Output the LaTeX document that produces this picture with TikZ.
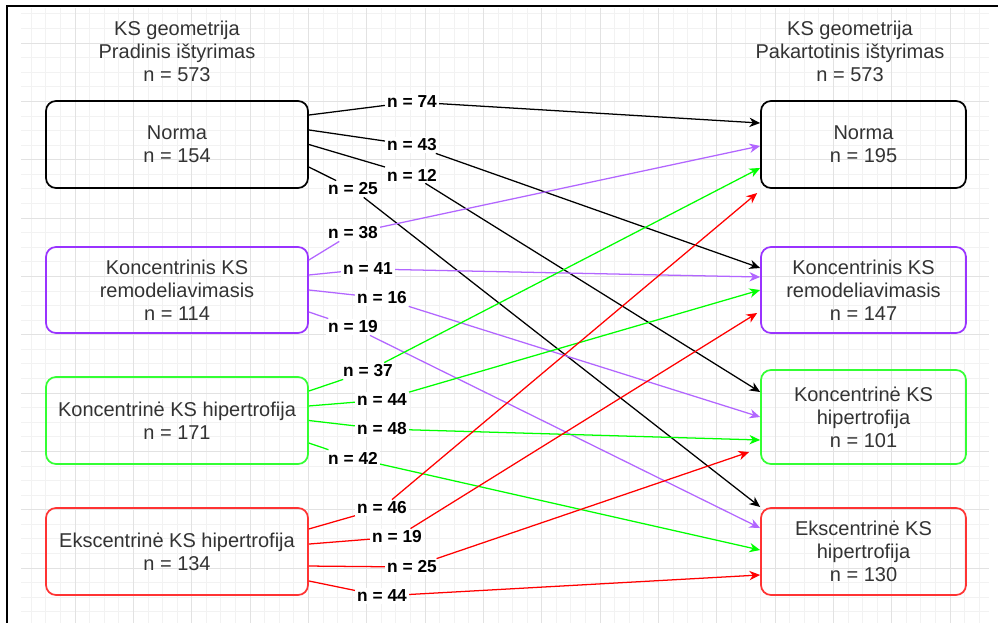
\documentclass[tikz,border=0pt]{standalone}
\usepackage{fontspec}
\setmainfont{Liberation Sans}
\usepackage{xcolor}
\usetikzlibrary{arrows.meta}
\definecolor{pbox}{HTML}{9933FF}
\definecolor{gbox}{HTML}{33FF33}
\definecolor{rbox}{HTML}{FF3333}
\definecolor{pline}{HTML}{B266FF}
\definecolor{gline}{HTML}{00FF00}
\definecolor{rline}{HTML}{FF0000}
\definecolor{gridmajor}{HTML}{E2E2E2}
\definecolor{gridminor}{HTML}{F2F2F2}
\tikzset{>={Stealth[length=8pt,width=7pt,inset=2.5pt]}}

\begin{document}
\begin{tikzpicture}[x=0.75pt, y=-0.75pt,
    box/.style={draw, rounded corners=7.5pt, line width=1.3pt, align=center,
      minimum width=262*0.75pt, minimum height=87*0.75pt,
      font=\fontsize{15}{17.25}\selectfont, text=black!80,
      execute at begin node={\rule{0pt}{15.4pt}}},
    boxR/.style={box, minimum width=205*0.75pt},
    title/.style={align=center, font=\fontsize{15}{17.25}\selectfont, text=black!80},
    cnt/.style={fill=white, inner sep=1.5pt, font=\bfseries\fontsize{13}{15}\selectfont},
    flow/.style={->, line width=0.95pt}]
  \useasboundingbox (0,0) rectangle (998,623);

  % grid
  \begin{scope}
    \clip (21,8) rectangle (989,623);
    \foreach \k in {-3,...,62}
      \draw[gridminor, line width=0.6pt] ({75+14.583*\k},8) -- ({75+14.583*\k},623);
    \foreach \k in {-2,...,40}
      \draw[gridminor, line width=0.6pt] (21,{43+14.583*\k}) -- (989,{43+14.583*\k});
    \foreach \k in {-1,...,16}
      \draw[gridmajor, line width=0.6pt] ({75+58.333*\k},8) -- ({75+58.333*\k},623);
    \foreach \k in {0,...,10}
      \draw[gridmajor, line width=0.6pt] (21,{43+58.333*\k}) -- (989,{43+58.333*\k});
  \end{scope}
  \draw[line width=1.6pt] (7,623) -- (7,6) -- (998,6);

  % titles
  \node[title] (titleA) at (177,51) {KS geometrija\\Pradinis ištyrimas\\n = 573};
  \node[title] (titleB) at (850,51) {KS geometrija\\Pakartotinis ištyrimas\\n = 573};

  % left column
  \node[box] (normaA) at (177,144.5) {Norma\\n = 154};
  \node[box, draw=pbox, minimum height=86*0.75pt] (konRemA) at (177,290) {Koncentrinis KS\\remodeliavimasis\\n = 114};
  \node[box, draw=gbox] (konHipA) at (177,420.5) {Koncentrinė KS hipertrofija\\n = 171};
  \node[box, draw=rbox] (eksHipA) at (177,551.5) {Ekscentrinė KS hipertrofija\\n = 134};

  % right column
  \node[boxR] (normaB) at (863.5,144.5) {Norma\\n = 195};
  \node[boxR, draw=pbox, minimum height=86*0.75pt] (konRemB) at (863.5,290) {Koncentrinis KS\\remodeliavimasis\\n = 147};
  \node[boxR, draw=gbox, minimum height=94*0.75pt] (konHipB) at (863.5,417) {Koncentrinė KS\\hipertrofija\\n = 101};
  \node[boxR, draw=rbox] (eksHipB) at (863.5,551.5) {Ekscentrinė KS\\hipertrofija\\n = 130};

  % counts
  \node[cnt] (k74) at (412,102) {n = 74};
  \node[cnt] (k43) at (412,145) {n = 43};
  \node[cnt] (k12) at (412,175) {n = 12};
  \node[cnt] (k25) at (353,189) {n = 25};
  \node[cnt] (p38) at (353,233) {n = 38};
  \node[cnt] (p41) at (368,269) {n = 41};
  \node[cnt] (p16) at (382,298) {n = 16};
  \node[cnt] (p19) at (353,327) {n = 19};
  \node[cnt] (g37) at (368,371) {n = 37};
  \node[cnt] (g44) at (382,400) {n = 44};
  \node[cnt] (g48) at (382,429) {n = 48};
  \node[cnt] (g42) at (353,458) {n = 42};
  \node[cnt] (r46) at (382,508) {n = 46};
  \node[cnt] (r19) at (397,537) {n = 19};
  \node[cnt] (r25) at (412,567) {n = 25};
  \node[cnt] (r44) at (382,596) {n = 44};

  % from Norma
  \draw[flow] ([yshift=22.1pt]normaA.east) -- (k74) -- ([yshift=16.1pt]normaB.west);
  \draw[flow] ([yshift=10.9pt]normaA.east) -- (k43) -- ([yshift=16.5pt]konRemB.west);
  \draw[flow] (normaA.east) -- (k12) -- ([yshift=18.75pt]konHipB.west);
  \draw[flow] ([yshift=-16.9pt]normaA.east) -- (k25) -- ([yshift=33.4pt]eksHipB.west);

  % from Koncentrinis remodeliavimasis
  \draw[flow, pline] ([yshift=22.5pt]konRemA.east) -- (p38) -- ([yshift=-1.1pt]normaB.west);
  \draw[flow, pline] ([yshift=11.25pt]konRemA.east) -- (p41) -- ([yshift=9.75pt]konRemB.west);
  \draw[flow, pline] (konRemA.east) -- (p16) -- (konHipB.west);
  \draw[flow, pline] ([yshift=-16.5pt]konRemA.east) -- (p19) -- ([yshift=17.6pt]eksHipB.west);

  % from Koncentrine hipertrofija
  \draw[flow, gline] ([yshift=22.1pt]konHipA.east) -- (g37) -- ([yshift=-17.6pt]normaB.west);
  \draw[flow, gline] ([yshift=10.9pt]konHipA.east) -- (g44) -- (konRemB.west);
  \draw[flow, gline] (konHipA.east) -- (g48) -- ([yshift=-17.25pt]konHipB.west);
  \draw[flow, gline] ([yshift=-16.9pt]konHipA.east) -- (g42) -- ([yshift=1.1pt]eksHipB.west);

  % from Ekscentrine hipertrofija
  \draw[flow, rline] ([yshift=16.9pt]eksHipA.east) -- (r46) -- ([xshift=-2.25pt, yshift=-36.4pt]normaB.west);
  \draw[flow, rline] ([yshift=5.6pt]eksHipA.east) -- (r19) -- ([xshift=-2.25pt, yshift=-17.25pt]konRemB.west);
  \draw[flow, rline] ([yshift=-10.9pt]eksHipA.east) -- (r25) -- ([xshift=-8.25pt, yshift=-26.25pt]konHipB.west);
  \draw[flow, rline] ([yshift=-22.1pt]eksHipA.east) -- (r44) -- ([yshift=-17.6pt]eksHipB.west);
\end{tikzpicture}
\end{document}
